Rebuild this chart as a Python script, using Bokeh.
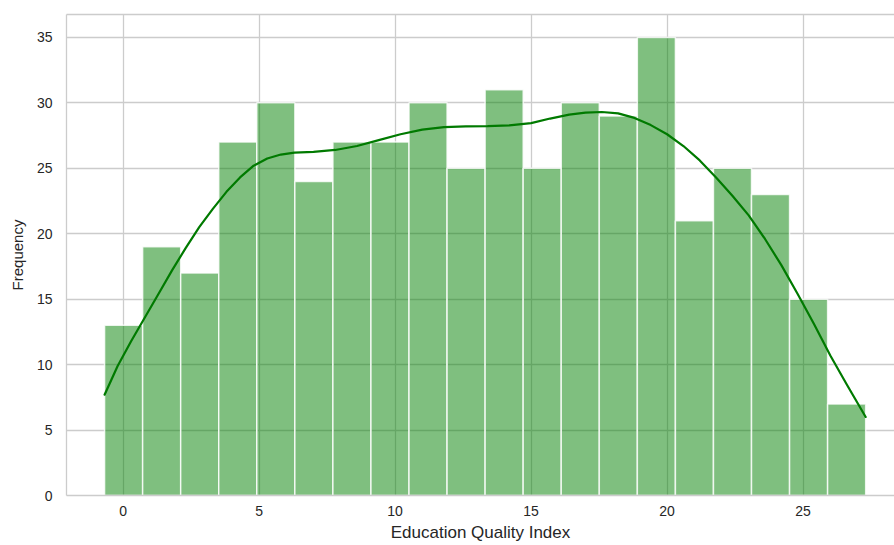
from bokeh.plotting import figure
from bokeh.models import LinearAxis, FixedTicker, Range1d, ColumnDataSource
from bokeh.embed import file_html
from bokeh.resources import INLINE

# Histogram of the Education Quality Index (20 equal-width bins)
counts = [13, 19, 17, 27, 30, 24, 27, 27, 30, 25, 31, 25, 30, 29, 35, 21, 25, 23, 15, 7]
data_min = -0.68
data_max = 27.30

# Kernel density estimate, scaled to counts
kde_x = [-0.68, -0.2, 0.3, 0.8, 1.3, 1.8, 2.3, 2.8, 3.3, 3.8, 4.3, 4.8, 5.3, 5.8, 6.3,
         7.0, 7.8, 8.6, 9.4, 10.2, 11.0, 11.8, 12.6, 13.4, 14.2, 15.0, 15.7, 16.4, 17.0,
         17.6, 18.2, 18.8, 19.4, 20.0, 20.6, 21.2, 21.8, 22.4, 23.0, 23.6, 24.2, 24.8,
         25.4, 26.0, 26.6, 27.3]
kde_y = [7.7, 9.9, 11.8, 13.6, 15.4, 17.2, 18.9, 20.5, 21.9, 23.2, 24.3, 25.2, 25.75,
         26.05, 26.2, 26.25, 26.4, 26.7, 27.15, 27.6, 27.95, 28.15, 28.2, 28.22, 28.28,
         28.45, 28.8, 29.1, 29.25, 29.3, 29.2, 28.85, 28.3, 27.6, 26.7, 25.6, 24.3, 22.9,
         21.4, 19.6, 17.6, 15.4, 13.1, 10.7, 8.5, 6.0]

x_ticks = [0, 5, 10, 15, 20, 25]
y_ticks = [0, 5, 10, 15, 20, 25, 30, 35]

n_bins = len(counts)
bin_w = (data_max - data_min) / n_bins
lefts = [data_min + i * bin_w for i in range(n_bins)]
rights = [l + bin_w for l in lefts]

GRID = "#cccccc"
TEXT = "#262626"
FONT = "Liberation Sans"

p = figure(width=894, height=545, output_backend="svg", toolbar_location=None,
           x_range=Range1d(-2.08, 28.36), y_range=Range1d(0, 36.75),
           min_border_left=66, min_border_right=0, min_border_top=14,
           min_border_bottom=50)
p.background_fill_color = "white"
p.border_fill_color = "white"
p.outline_line_color = None

bars = ColumnDataSource(dict(left=lefts, right=rights, top=counts, bottom=[0] * n_bins))
p.quad(left="left", right="right", top="top", bottom="bottom", source=bars,
       fill_color="#008000", fill_alpha=0.5,
       line_color="white", line_width=1.5, line_alpha=0.8)

p.line(kde_x, kde_y, line_color="#007a00", line_width=2.2, line_join="round",
       line_cap="round")

# axes
p.xaxis.ticker = FixedTicker(ticks=x_ticks)
p.yaxis.ticker = FixedTicker(ticks=y_ticks)
for ax in (p.xaxis, p.yaxis):
    ax.major_tick_out = 0
    ax.major_tick_in = 0
    ax.minor_tick_out = 0
    ax.minor_tick_in = 0
    ax.axis_line_color = GRID
    ax.axis_line_width = 1.3
    ax.major_label_text_font = FONT
    ax.major_label_text_font_size = "14px"
    ax.major_label_text_color = TEXT
    ax.axis_label_text_font = FONT
    ax.axis_label_text_font_style = "normal"
    ax.axis_label_text_color = TEXT

p.xaxis.axis_label = "Education Quality Index"
p.xaxis.axis_label_text_font_size = "17px"
p.xaxis.major_label_standoff = 10
p.xaxis.axis_label_standoff = 4

p.yaxis.axis_label = "Frequency"
p.yaxis.axis_label_text_font_size = "15px"
p.yaxis.major_label_standoff = 14
p.yaxis.axis_label_standoff = 8

# top spine
top_axis = LinearAxis(ticker=FixedTicker(ticks=[]), axis_line_color=GRID,
                      axis_line_width=1.3, major_tick_out=0, minor_tick_out=0)
p.add_layout(top_axis, "above")

p.xgrid.grid_line_color = GRID
p.ygrid.grid_line_color = GRID
p.xgrid.grid_line_width = 1.3
p.ygrid.grid_line_width = 1.3

open("out.html", "w").write(file_html(p, INLINE))
